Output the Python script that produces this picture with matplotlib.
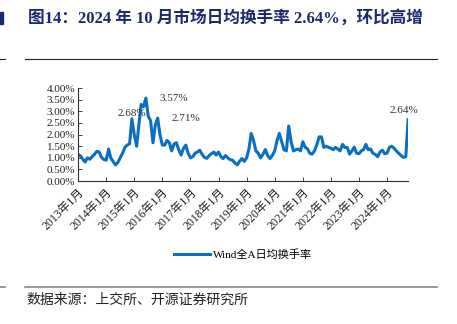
import matplotlib.pyplot as plt
import matplotlib.dates as mdates
import numpy as np
import pandas as pd

plt.rcParams['font.family'] = ['Liberation Serif', 'Noto Sans CJK SC']

# monthly average turnover (%), 2013-01 .. 2024-10
turnover = [
    1.15, 1.08, 0.95, 0.82, 1.00, 0.94, 1.05, 1.15, 1.28, 1.25, 1.02, 0.93,  # 2013
    0.90, 1.38, 1.00, 0.85, 0.70, 0.80, 1.00, 1.20, 1.45, 1.55, 1.60, 2.68,  # 2014
    2.00, 1.50, 2.40, 3.30, 3.20, 3.57, 2.80, 2.60, 1.65, 2.40, 2.71, 2.00,  # 2015
    1.55, 1.55, 1.75, 1.65, 1.30, 1.60, 1.65, 1.35, 1.12, 1.40, 1.55, 1.20,  # 2016
    1.00, 1.05, 1.20, 1.25, 1.33, 1.15, 1.02, 0.98, 1.10, 1.18, 1.25, 1.12,  # 2017
    1.25, 1.05, 0.97, 1.10, 1.00, 0.92, 0.90, 0.78, 0.70, 0.85, 0.97, 0.85,  # 2018
    1.00, 1.40, 2.05, 1.75, 1.30, 1.20, 1.00, 1.15, 1.36, 1.10, 0.97, 1.10,  # 2019
    1.30, 1.75, 2.05, 1.70, 1.35, 1.30, 2.37, 1.70, 1.30, 1.35, 1.38, 1.30,  # 2020
    1.69, 1.45, 1.40, 1.20, 1.16, 1.30, 1.55, 1.90, 1.90, 1.45, 1.50, 1.45,  # 2021
    1.42, 1.35, 1.45, 1.38, 1.30, 1.58, 1.45, 1.45, 1.16, 1.30, 1.46, 1.20,  # 2022
    1.18, 1.30, 1.35, 1.58, 1.35, 1.38, 1.20, 1.15, 1.05, 1.25, 1.33, 1.18,  # 2023
    1.20, 1.45, 1.50, 1.42, 1.30, 1.20, 1.10, 1.02, 1.05, 2.64,              # 2024
]
months = pd.date_range('2013-01-01', periods=len(turnover), freq='MS')
year_ticks = pd.date_range('2013-01-01', '2024-01-01', freq='YS')
tick_labels = [f'{d.year}年1月' for d in year_ticks]
yticks = np.arange(0, 4.01, 0.5)

# labelled points: (month, value, x offset px, y offset px)
notes = [('2014-12-01', 2.68, 0, 5),
         ('2015-06-01', 3.57, 28, 0),
         ('2015-11-01', 2.71, 28, 0),
         ('2024-10-01', 2.64, -4, 9)]

line_color = '#0a6fc2'
navy = '#1b2a6e'

fig = plt.figure(figsize=(4.57, 3.24), dpi=100)
ax = fig.add_axes([0.171, 0.441, 0.722, 0.287])

s = pd.Series(turnover, index=months)
ax.plot(s.index, s.values, color=line_color, lw=2.2, label='Wind全A日均换手率')

for d, v, dx, dy in notes:
    ax.annotate(f'{v:.2f}%', xy=(pd.Timestamp(d), v), xytext=(dx, dy),
                textcoords='offset pixels', ha='center', va='center',
                fontsize=8, color='#333333')

ax.set_ylim(0, 4)
ax.set_yticks(yticks)
ax.set_yticklabels([f'{t:.2f}%' for t in yticks])
ax.set_xlim(months[0], months[-1])
ax.set_xticks(year_ticks)
ax.set_xticklabels(tick_labels, rotation=45, ha='right', rotation_mode='anchor',
                   fontsize=8.5)
ax.tick_params(direction='in', length=3, width=0.6, labelsize=8, colors='#222222', pad=2)
ax.tick_params(axis='x', pad=4, labelsize=8.5)
for side in ['top', 'right']:
    ax.spines[side].set_visible(False)
for side in ['left', 'bottom']:
    ax.spines[side].set_color('#333333')
    ax.spines[side].set_linewidth(0.8)

ax.legend(loc='upper center', bbox_to_anchor=(0.5, -0.62), frameon=False,
          fontsize=8, handlelength=3.2, handletextpad=0.3)

# header and footer
fig.text(28 / 457, 1 - 18 / 324, '图14：2024 年 10 月市场日均换手率 2.64%，环比高增',
         fontsize=12, fontweight='bold', color=navy, va='center', ha='left')
# sliver of the neighbouring column's title at the left edge
fig.add_artist(plt.Rectangle((0, 1 - 24 / 324), 3 / 457, 12 / 324,
                             color=navy, transform=fig.transFigure))
fig.add_artist(plt.Line2D([25 / 457, 437 / 457], [1 - 59 / 324] * 2, color='#222222', lw=0.8))
fig.add_artist(plt.Line2D([0, 5 / 457], [1 - 59 / 324] * 2, color='#222222', lw=0.8))
fig.add_artist(plt.Line2D([25 / 457, 437 / 457], [1 - 287 / 324] * 2, color='#888888', lw=1.2))
fig.add_artist(plt.Line2D([0, 5 / 457], [1 - 287 / 324] * 2, color='#888888', lw=1.2))
fig.text(26 / 457, 1 - 300 / 324, '数据来源：上交所、开源证券研究所',
         fontsize=10, color='#222222', va='center', ha='left')

fig.savefig('out.png', dpi=100)
